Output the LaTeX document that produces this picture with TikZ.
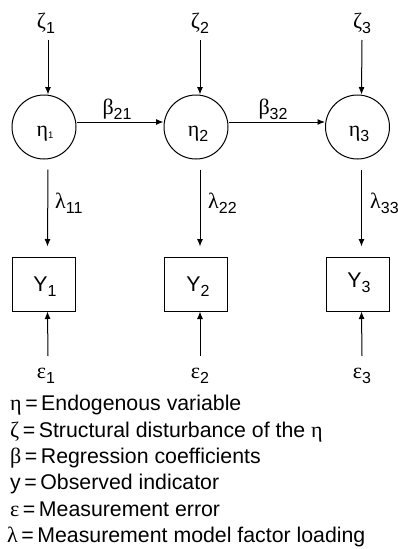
\documentclass[tikz,border=0pt]{standalone}
\usepackage{fontspec}
\setmainfont{Liberation Sans}
\newfontfamily\grfont{Liberation Serif}
\usetikzlibrary{arrows.meta}
\newcommand{\gk}[1]{{\grfont\fontsize{22}{22}\selectfont #1}}
\newcommand{\ssb}[1]{\raisebox{-0.28em}{\fontsize{16}{16}\selectfont #1}}
\newcommand{\tsb}[1]{\raisebox{-0.1em}{\fontsize{9.5}{9.5}\selectfont #1}}
\begin{document}
\begin{tikzpicture}[x=1pt,y=-1pt,
  every node/.style={font=\fontsize{21.3}{21.3}\selectfont, inner sep=0pt},
  latent/.style={draw, circle, minimum size=64pt, line width=1pt},
  observed/.style={draw, rectangle, minimum width=63pt, minimum height=54pt, line width=1pt},
  arr/.style={line width=1pt, -{Latex[length=7.5pt,width=6pt]}},
  lab/.style={anchor=base},
  leg/.style={anchor=base west}]
\useasboundingbox (0,0) rectangle (398,549);
% latent variables
\node[latent] (eta1) at (44,127) {};
\node[latent] (eta2) at (196,127) {};
\node[latent] (eta3) at (357.5,127) {};
\node[lab] (teta1) at (45,136) {\gk{η}\tsb{1}};
\node[lab] (teta2) at (198,136) {\gk{η}\ssb{2}};
\node[lab] (teta3) at (359,136) {\gk{η}\ssb{3}};
% observed
\node[observed] (Y1) at (43.5,284) {};
\node[observed] (Y2) at (196,284) {};
\node[observed] (Y3) at (357.5,284) {};
\node[lab] (tY1) at (45,291) {Y\ssb{1}};
\node[lab] (tY2) at (198,291) {Y\ssb{2}};
\node[lab] (tY3) at (359,287) {Y\ssb{3}};
% disturbances
\node[lab] (z1) at (46,28) {\gk{ζ}\ssb{1}};
\node[lab] (z2) at (200,28) {\gk{ζ}\ssb{2}};
\node[lab] (z3) at (362,28) {\gk{ζ}\ssb{3}};
\coordinate (z1a) at (48,40);
\coordinate (z2a) at (200,40);
\coordinate (z3a) at (362,40);
% errors
\node[lab] (e1) at (46,378) {\gk{ε}\ssb{1}};
\node[lab] (e2) at (200,378) {\gk{ε}\ssb{2}};
\node[lab] (e3) at (362,378) {\gk{ε}\ssb{3}};
\coordinate (e1a) at (48,356);
\coordinate (e2a) at (200,356);
\coordinate (e3a) at (362,356);
% arrows
\draw[arr] (z1a) -- ([xshift=4pt]eta1.north);
\draw[arr] (z2a) -- ([xshift=4pt]eta2.north);
\draw[arr] (z3a) -- ([xshift=4pt]eta3.north);
\draw[arr] ([yshift=5pt]eta1.east) -- ([yshift=5pt]eta2.west);
\draw[arr] ([yshift=5pt]eta2.east) -- ([yshift=5pt]eta3.west);
\draw[arr] ([xshift=4pt,yshift=-10pt]eta1.south) -- ([xshift=4pt,yshift=10pt]Y1.north);
\draw[arr] ([xshift=4pt,yshift=-10pt]eta2.south) -- ([xshift=4pt,yshift=10pt]Y2.north);
\draw[arr] ([xshift=4pt,yshift=-10pt]eta3.south) -- ([xshift=4pt,yshift=10pt]Y3.north);
\draw[arr] (e1a) -- ([xshift=4pt]Y1.south);
\draw[arr] (e2a) -- ([xshift=4pt]Y2.south);
\draw[arr] (e3a) -- ([xshift=4pt]Y3.south);
% path labels
\node[lab] (b21) at (117,114) {\gk{β}\ssb{21}};
\node[lab] (b32) at (273,114) {\gk{β}\ssb{32}};
\node[anchor=base west] (l11) at (55,208) {\gk{λ}\ssb{11}};
\node[anchor=base west] (l22) at (208,208) {\gk{λ}\ssb{22}};
\node[anchor=base west] (l33) at (370,208) {\gk{λ}\ssb{33}};
% legend
\node[leg] (g1) at (10,410) {\gk{η}\,=\,Endogenous variable};
\node[leg] (g2) at (10,437) {\gk{ζ}\,=\,Structural disturbance of the \gk{η}};
\node[leg] (g3) at (10,463) {\gk{β}\,=\,Regression coefficients};
\node[leg] (g4) at (10,489) {y\,=\,Observed indicator};
\node[leg] (g5) at (10,516) {\gk{ε}\,=\,Measurement error};
\node[leg] (g6) at (7,542) {\gk{λ}\,=\,Measurement model factor loading};
\end{tikzpicture}
\end{document}
